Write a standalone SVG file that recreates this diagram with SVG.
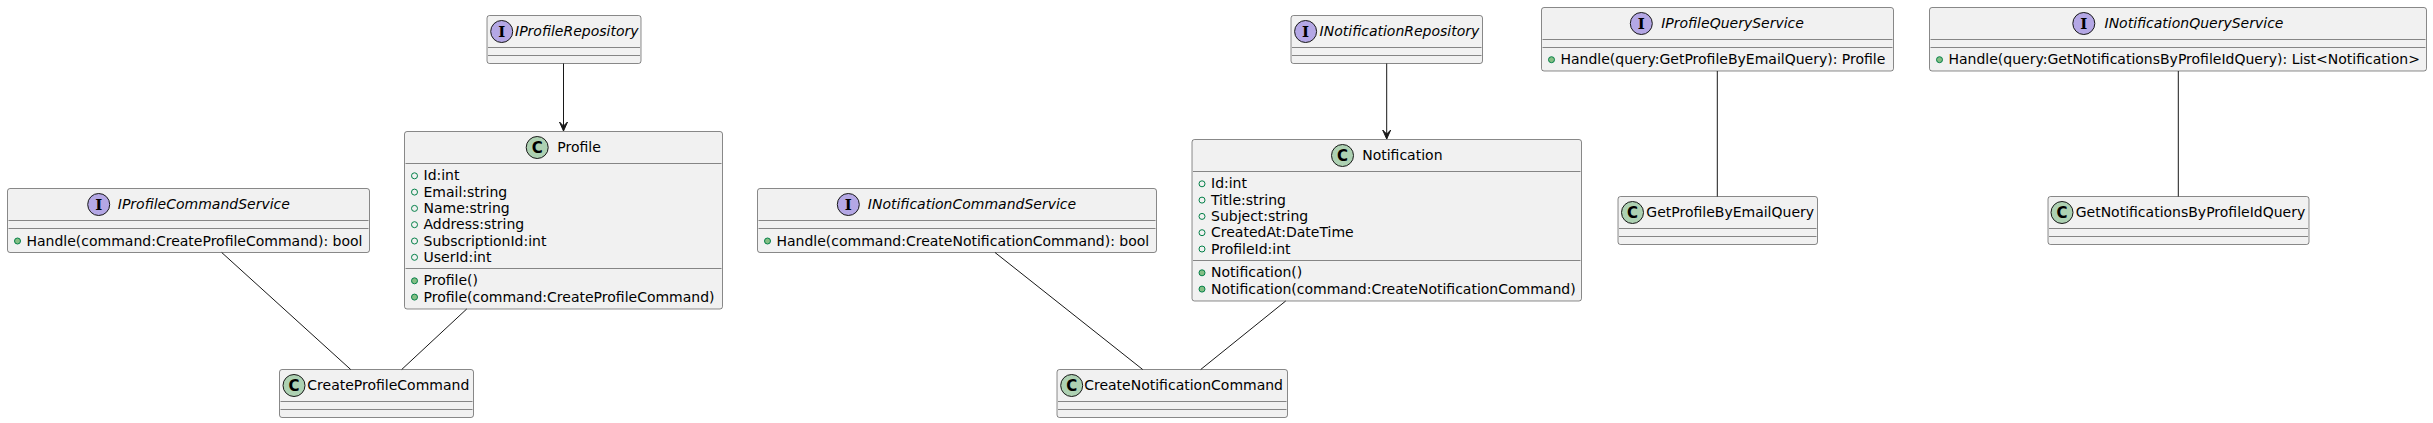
<svg xmlns="http://www.w3.org/2000/svg" width="2433" height="423" viewBox="0 0 2433 423">
<style>
.bg{fill:#FFFFFF}
.box{fill:#F1F1F1;stroke:#181818;stroke-width:0.5}
.sep{stroke:#181818;stroke-width:0.5}
.cc{fill:#ADD1B2;stroke:#181818;stroke-width:1}
.ic{fill:#B4A7E5;stroke:#181818;stroke-width:1}
.t{font-family:"DejaVu Sans",sans-serif;font-size:14px;fill:#000000}
.it{font-style:italic}
.fld{fill:none;stroke:#038048;stroke-width:1}
.mth{fill:#84BE84;stroke:#038048;stroke-width:1}
.gc{font-family:"DejaVu Sans",sans-serif;font-weight:bold;font-size:15px;text-anchor:middle;fill:#000000}
.gi{font-family:"DejaVu Serif",serif;font-weight:bold;font-size:15px;text-anchor:middle;fill:#000000}
.edge{stroke:#181818;stroke-width:1;fill:none}
</style>
<defs>
<marker id="arr" markerUnits="userSpaceOnUse" markerWidth="10" markerHeight="10" refX="9" refY="5" orient="auto">
<path d="M0,1 L9,5 L0,9 L4,5 Z" fill="#181818" stroke="#181818" stroke-width="1"/>
</marker>
</defs>
<rect class="bg" x="0" y="0" width="2433" height="423"/>

<g id="IProfileCommandService">
<rect class="box" x="7.5" y="188.5" width="362" height="64" rx="2.5"/>
<ellipse class="ic" cx="98.7" cy="204.5" rx="11" ry="11"/>
<text class="gi" x="98.7" y="209.8">I</text>
<text class="t it" x="117.8" y="209.3">IProfileCommandService</text>
<line class="sep" x1="8.5" y1="220.5" x2="368.5" y2="220.5"/>
<line class="sep" x1="8.5" y1="228.5" x2="368.5" y2="228.5"/>
<ellipse class="mth" cx="17.5" cy="241" rx="3" ry="3"/>
<text class="t" x="26.5" y="245.5">Handle(command:CreateProfileCommand): bool</text>
</g>

<g id="IProfileRepository">
<rect class="box" x="487" y="15.5" width="154" height="48" rx="2.5"/>
<ellipse class="ic" cx="501.7" cy="31.5" rx="11" ry="11"/>
<text class="gi" x="501.7" y="36.8">I</text>
<text class="t it" x="515" y="36.3">IProfileRepository</text>
<line class="sep" x1="488" y1="47.5" x2="640" y2="47.5"/>
<line class="sep" x1="488" y1="55.5" x2="640" y2="55.5"/>
</g>

<g id="Profile">
<rect class="box" x="404.5" y="131.5" width="318" height="177.5" rx="2.5"/>
<ellipse class="cc" cx="537.2" cy="147.5" rx="11" ry="11"/>
<text class="gc" x="537.2" y="152.8">C</text>
<text class="t" x="557.3" y="152.3">Profile</text>
<line class="sep" x1="405.5" y1="163.5" x2="721.5" y2="163.5"/>
<ellipse class="fld" cx="414.5" cy="175.8" rx="3" ry="3"/>
<text class="t" x="423.5" y="180.3">Id:int</text>
<ellipse class="fld" cx="414.5" cy="192.1" rx="3" ry="3"/>
<text class="t" x="423.5" y="196.6">Email:string</text>
<ellipse class="fld" cx="414.5" cy="208.4" rx="3" ry="3"/>
<text class="t" x="423.5" y="212.9">Name:string</text>
<ellipse class="fld" cx="414.5" cy="224.7" rx="3" ry="3"/>
<text class="t" x="423.5" y="229.2">Address:string</text>
<ellipse class="fld" cx="414.5" cy="241" rx="3" ry="3"/>
<text class="t" x="423.5" y="245.5">SubscriptionId:int</text>
<ellipse class="fld" cx="414.5" cy="257.3" rx="3" ry="3"/>
<text class="t" x="423.5" y="261.8">UserId:int</text>
<line class="sep" x1="405.5" y1="268.5" x2="721.5" y2="268.5"/>
<ellipse class="mth" cx="414.5" cy="280.8" rx="3" ry="3"/>
<text class="t" x="423.5" y="285.3">Profile()</text>
<ellipse class="mth" cx="414.5" cy="297.1" rx="3" ry="3"/>
<text class="t" x="423.5" y="301.6">Profile(command:CreateProfileCommand)</text>
</g>

<g id="CreateProfileCommand">
<rect class="box" x="279.5" y="369.5" width="194" height="48" rx="2.5"/>
<ellipse class="cc" cx="294" cy="385.5" rx="11" ry="11"/>
<text class="gc" x="294" y="390.8">C</text>
<text class="t" x="307.3" y="390.3">CreateProfileCommand</text>
<line class="sep" x1="280.5" y1="401.5" x2="472.5" y2="401.5"/>
<line class="sep" x1="280.5" y1="409.5" x2="472.5" y2="409.5"/>
</g>

<g id="INotificationCommandService">
<rect class="box" x="757.5" y="188.5" width="399" height="64" rx="2.5"/>
<ellipse class="ic" cx="848.3" cy="204.5" rx="11" ry="11"/>
<text class="gi" x="848.3" y="209.8">I</text>
<text class="t it" x="867.8" y="209.3">INotificationCommandService</text>
<line class="sep" x1="758.5" y1="220.5" x2="1155.5" y2="220.5"/>
<line class="sep" x1="758.5" y1="228.5" x2="1155.5" y2="228.5"/>
<ellipse class="mth" cx="767.5" cy="241" rx="3" ry="3"/>
<text class="t" x="776.5" y="245.5">Handle(command:CreateNotificationCommand): bool</text>
</g>

<g id="INotificationRepository">
<rect class="box" x="1291" y="15.5" width="191.5" height="48" rx="2.5"/>
<ellipse class="ic" cx="1305.6" cy="31.5" rx="11" ry="11"/>
<text class="gi" x="1305.6" y="36.8">I</text>
<text class="t it" x="1319.6" y="36.3">INotificationRepository</text>
<line class="sep" x1="1292" y1="47.5" x2="1481.5" y2="47.5"/>
<line class="sep" x1="1292" y1="55.5" x2="1481.5" y2="55.5"/>
</g>

<g id="Notification">
<rect class="box" x="1192" y="139.5" width="389.5" height="161.5" rx="2.5"/>
<ellipse class="cc" cx="1342.5" cy="155.5" rx="11" ry="11"/>
<text class="gc" x="1342.5" y="160.8">C</text>
<text class="t" x="1362.2" y="160.3">Notification</text>
<line class="sep" x1="1193" y1="171.5" x2="1580.5" y2="171.5"/>
<ellipse class="fld" cx="1202" cy="183.8" rx="3" ry="3"/>
<text class="t" x="1211" y="188.3">Id:int</text>
<ellipse class="fld" cx="1202" cy="200.1" rx="3" ry="3"/>
<text class="t" x="1211" y="204.6">Title:string</text>
<ellipse class="fld" cx="1202" cy="216.4" rx="3" ry="3"/>
<text class="t" x="1211" y="220.9">Subject:string</text>
<ellipse class="fld" cx="1202" cy="232.7" rx="3" ry="3"/>
<text class="t" x="1211" y="237.2">CreatedAt:DateTime</text>
<ellipse class="fld" cx="1202" cy="249" rx="3" ry="3"/>
<text class="t" x="1211" y="253.5">ProfileId:int</text>
<line class="sep" x1="1193" y1="260.5" x2="1580.5" y2="260.5"/>
<ellipse class="mth" cx="1202" cy="272.8" rx="3" ry="3"/>
<text class="t" x="1211" y="277.3">Notification()</text>
<ellipse class="mth" cx="1202" cy="289.1" rx="3" ry="3"/>
<text class="t" x="1211" y="293.6">Notification(command:CreateNotificationCommand)</text>
</g>

<g id="CreateNotificationCommand">
<rect class="box" x="1057" y="369.5" width="230.5" height="48" rx="2.5"/>
<ellipse class="cc" cx="1071.7" cy="385.5" rx="11" ry="11"/>
<text class="gc" x="1071.7" y="390.8">C</text>
<text class="t" x="1084.2" y="390.3">CreateNotificationCommand</text>
<line class="sep" x1="1058" y1="401.5" x2="1286.5" y2="401.5"/>
<line class="sep" x1="1058" y1="409.5" x2="1286.5" y2="409.5"/>
</g>

<g id="IProfileQueryService">
<rect class="box" x="1541.5" y="7.5" width="352" height="63.5" rx="2.5"/>
<ellipse class="ic" cx="1641.3" cy="23.5" rx="11" ry="11"/>
<text class="gi" x="1641.3" y="28.8">I</text>
<text class="t it" x="1661.2" y="28.3">IProfileQueryService</text>
<line class="sep" x1="1542.5" y1="39.5" x2="1892.5" y2="39.5"/>
<line class="sep" x1="1542.5" y1="47.5" x2="1892.5" y2="47.5"/>
<ellipse class="mth" cx="1551.5" cy="59.7" rx="3" ry="3"/>
<text class="t" x="1560.5" y="64.2">Handle(query:GetProfileByEmailQuery): Profile</text>
</g>

<g id="GetProfileByEmailQuery">
<rect class="box" x="1618" y="196.5" width="199.5" height="48" rx="2.5"/>
<ellipse class="cc" cx="1632.5" cy="212.5" rx="11" ry="11"/>
<text class="gc" x="1632.5" y="217.8">C</text>
<text class="t" x="1646.3" y="217.3">GetProfileByEmailQuery</text>
<line class="sep" x1="1619" y1="228.5" x2="1816.5" y2="228.5"/>
<line class="sep" x1="1619" y1="236.5" x2="1816.5" y2="236.5"/>
</g>

<g id="INotificationQueryService">
<rect class="box" x="1929.5" y="7.5" width="497" height="63.5" rx="2.5"/>
<ellipse class="ic" cx="2083.8" cy="23.5" rx="11" ry="11"/>
<text class="gi" x="2083.8" y="28.8">I</text>
<text class="t it" x="2104.5" y="28.3">INotificationQueryService</text>
<line class="sep" x1="1930.5" y1="39.5" x2="2425.5" y2="39.5"/>
<line class="sep" x1="1930.5" y1="47.5" x2="2425.5" y2="47.5"/>
<ellipse class="mth" cx="1939.5" cy="59.7" rx="3" ry="3"/>
<text class="t" x="1948.5" y="64.2">Handle(query:GetNotificationsByProfileIdQuery): List&lt;Notification&gt;</text>
</g>

<g id="GetNotificationsByProfileIdQuery">
<rect class="box" x="2048" y="196.5" width="261" height="48" rx="2.5"/>
<ellipse class="cc" cx="2062" cy="212.5" rx="11" ry="11"/>
<text class="gc" x="2062" y="217.8">C</text>
<text class="t" x="2075.7" y="217.3">GetNotificationsByProfileIdQuery</text>
<line class="sep" x1="2049" y1="228.5" x2="2308" y2="228.5"/>
<line class="sep" x1="2049" y1="236.5" x2="2308" y2="236.5"/>
</g>

<g id="connectors">
<line class="edge" x1="563.5" y1="63.5" x2="563.5" y2="131" marker-end="url(#arr)"/>
<line class="edge" x1="1386.7" y1="63.5" x2="1386.7" y2="139" marker-end="url(#arr)"/>
<line class="edge" x1="221.7" y1="252.5" x2="350.7" y2="369.5"/>
<line class="edge" x1="466.7" y1="309" x2="401.7" y2="369.5"/>
<line class="edge" x1="995" y1="252.5" x2="1142.7" y2="369.5"/>
<line class="edge" x1="1285.7" y1="301" x2="1200.7" y2="369.5"/>
<line class="edge" x1="1717.3" y1="71" x2="1717.3" y2="196.5"/>
<line class="edge" x1="2178.3" y1="71" x2="2178.3" y2="196.5"/>
</g>
</svg>
